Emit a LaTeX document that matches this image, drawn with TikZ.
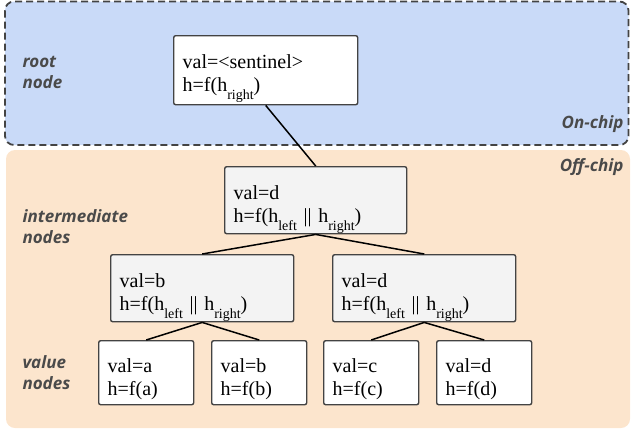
\documentclass[tikz,border=0pt]{standalone}
\usepackage{fontspec}
\setmainfont{Liberation Serif}
\newfontfamily\lblfont{Open Sans}
\definecolor{onchip}{HTML}{C9DAF8}
\definecolor{offchip}{HTML}{FCE5CD}
\definecolor{boxgray}{HTML}{F3F3F3}
\definecolor{edgegray}{HTML}{434343}
\definecolor{lblgray}{HTML}{4A4A4A}
\newcommand{\lowsub}[1]{\raisebox{-8pt}{\fontsize{14}{14}\selectfont #1}}
% two text lines: first line with given height above baseline, last with given depth
\newcommand{\twolines}[4]{\rule{0pt}{#3}#1\\#2\rule[-#4]{0pt}{0pt}}
\tikzset{
  region/.style={rounded corners=9pt},
  treebox/.style={draw=edgegray, line width=1.4pt, rounded corners=2pt, anchor=north west,
    align=left, inner xsep=9pt, inner ysep=0pt, font=\fontsize{20}{23}\selectfont},
  wbox/.style={treebox, fill=white},
  gbox/.style={treebox, fill=boxgray},
  lbl/.style={font=\lblfont\bfseries\itshape\fontsize{17}{21}\selectfont, text=lblgray, align=left},
  link/.style={line width=1.5pt, black}
}
\begin{document}
\begin{tikzpicture}[x=1pt, y=-1pt]
\useasboundingbox (0,0) rectangle (631,431);
% regions
\fill[offchip, region] (6,150) rectangle (630,428);
\draw[region, fill=onchip, draw=edgegray, line width=1.8pt, dash pattern=on 7pt off 4pt] (5,1.5) rectangle (628.5,145);
% labels
\node[lbl, anchor=west] (rootlbl) at (19,72) {root\\node};
\node[lbl, anchor=west] (intlbl) at (19,227) {intermediate\\nodes};
\node[lbl, anchor=west] (vallbl) at (19,373) {value\\nodes};
\node[lbl, anchor=east] (onlbl) at (627,124) {On-chip};
\node[lbl, anchor=east] (offlbl) at (627,167) {Off-chip};
% tree nodes
\node[wbox, text width=166pt] (root) at (173,35) {\twolines{val=<sentinel>}{h=f(h\lowsub{right})}{33pt}{13pt}};
\node[gbox, text width=164pt] (mid) at (224,166) {\twolines{val=d}{h=f(h\lowsub{left} || h\lowsub{right})}{33pt}{11pt}};
\node[gbox, text width=165pt] (lft) at (110,254) {\twolines{val=b}{h=f(h\lowsub{left} || h\lowsub{right})}{33pt}{11pt}};
\node[gbox, text width=165pt] (rgt) at (332,254) {\twolines{val=d}{h=f(h\lowsub{left} || h\lowsub{right})}{33pt}{11pt}};
\node[wbox, text width=77pt] (va) at (98,340) {\twolines{val=a}{h=f(a)}{32pt}{9pt}};
\node[wbox, text width=77pt] (vb) at (211,340) {\twolines{val=b}{h=f(b)}{32pt}{9pt}};
\node[wbox, text width=77pt] (vc) at (323,340) {\twolines{val=c}{h=f(c)}{32pt}{9pt}};
\node[wbox, text width=77pt] (vd) at (436,340) {\twolines{val=d}{h=f(d)}{32pt}{9pt}};
% edges
\draw[link] (root.south) -- (mid.north);
\draw[link] (mid.south) -- (lft.north);
\draw[link] (mid.south) -- (rgt.north);
\draw[link] (lft.south) -- (va.north);
\draw[link] (lft.south) -- (vb.north);
\draw[link] (rgt.south) -- (vc.north);
\draw[link] (rgt.south) -- (vd.north);
\end{tikzpicture}
\end{document}
